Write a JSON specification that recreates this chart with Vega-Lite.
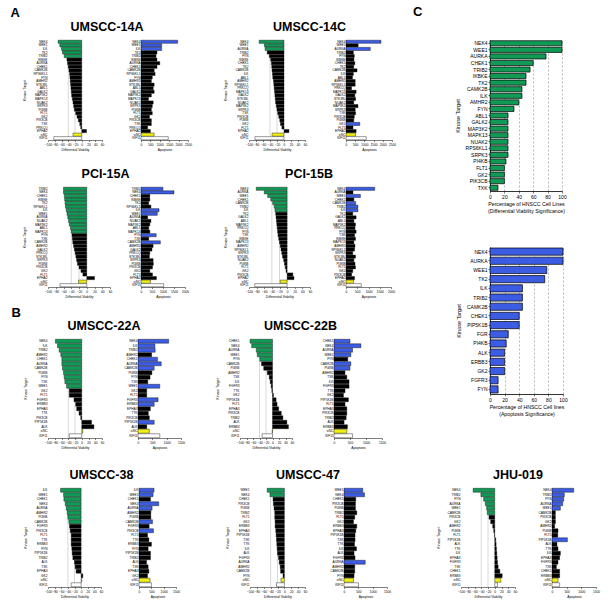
{
"$schema":"https://vega.github.io/schema/vega-lite/v6.json",
"background":"white",
"padding":{"left":10,"top":6,"right":2,"bottom":2},
"config":{
 "font":"Liberation Sans",
 "view":{"stroke":null},
 "axis":{"labelFont":"Liberation Sans","titleFont":"Liberation Sans","labelFontSize":3.2,"titleFontSize":3.3,"titleFontWeight":"normal","labelColor":"#000","titleColor":"#000","domainColor":"#000","tickColor":"#000","domainWidth":0.5,"tickWidth":0.5,"tickSize":1.5,"labelPadding":1,"titlePadding":2,"labelOverlap":false,"labelFlush":false,"grid":false},
 "axisY":{"ticks":false,"domain":false,"titleFontSize":3.5,"titlePadding":6.5},
 "title":{"font":"Liberation Sans","fontSize":12.5,"fontWeight":"bold","color":"#000","offset":6,"anchor":"middle"}
},
"datasets":{
 "thr":[{"t":-40},{"t":-20}],
 "u14a":[
  {"k":"NEK4","v":-70,"vc":"G","a":1950,"ac":"B"},{"k":"WEE1","v":-65,"vc":"G","a":1100,"ac":"B"},{"k":"ILK","v":-60,"vc":"G","a":1100,"ac":"B"},{"k":"TK2","v":-57,"vc":"G","a":850,"ac":"K"},{"k":"TRIB2","v":-52,"vc":"G","a":800,"ac":"K"},{"k":"IKBKE","v":-44,"vc":"K","a":850,"ac":"K"},{"k":"AURKA","v":-42,"vc":"K","a":1000,"ac":"K"},{"k":"CHEK1","v":-40,"vc":"K","a":850,"ac":"K"},{"k":"CAMK2B","v":-38,"vc":"K","a":700,"ac":"K"},{"k":"RPS6KL1","v":-36,"vc":"K","a":750,"ac":"K"},{"k":"FYN","v":-35,"vc":"K","a":600,"ac":"K"},{"k":"AMHR2","v":-34,"vc":"K","a":550,"ac":"K"},{"k":"STK38L","v":-33,"vc":"K","a":700,"ac":"K"},{"k":"ABL1","v":-32,"vc":"K","a":650,"ac":"K"},{"k":"GALK2","v":-31,"vc":"K","a":700,"ac":"K"},{"k":"MAP3K2","v":-30,"vc":"K","a":550,"ac":"K"},{"k":"MAPK13","v":-28,"vc":"K","a":400,"ac":"K"},{"k":"NUAK2","v":-26,"vc":"K","a":650,"ac":"K"},{"k":"SRPK3","v":-24,"vc":"K","a":600,"ac":"K"},{"k":"PI4KB","v":-22,"vc":"K","a":550,"ac":"K"},{"k":"FLT1","v":-18,"vc":"K","a":600,"ac":"K"},{"k":"GK2","v":-14,"vc":"K","a":450,"ac":"K"},{"k":"PIK3CB","v":-10,"vc":"K","a":550,"ac":"K"},{"k":"TXK","v":-6,"vc":"K","a":550,"ac":"K"},{"k":"PRKCQ","v":-3,"vc":"K","a":350,"ac":"K"},{"k":"EPHA2","v":14,"vc":"K","a":500,"ac":"K"},{"k":"siNC","v":-26,"vc":"Y","a":700,"ac":"Y"},{"k":"KIF11","v":-83,"vc":"W","a":1450,"ac":"W"}],
 "u14c":[
  {"k":"NEK4","v":-71,"vc":"G","a":1900,"ac":"B"},{"k":"WEE1","v":-56,"vc":"G","a":660,"ac":"K"},{"k":"AURKA","v":-54,"vc":"G","a":1320,"ac":"B"},{"k":"TRIB2","v":-48,"vc":"K","a":400,"ac":"K"},{"k":"FYN","v":-42,"vc":"K","a":450,"ac":"K"},{"k":"IKBKE","v":-38,"vc":"K","a":430,"ac":"K"},{"k":"CHEK1","v":-36,"vc":"K","a":480,"ac":"K"},{"k":"TK2","v":-35,"vc":"K","a":420,"ac":"K"},{"k":"CAMK2B","v":-34,"vc":"K","a":600,"ac":"K"},{"k":"ILK","v":-33,"vc":"K","a":400,"ac":"K"},{"k":"ABL1","v":-32,"vc":"K","a":350,"ac":"K"},{"k":"AMHR2","v":-30,"vc":"K","a":500,"ac":"K"},{"k":"RPS6KL1","v":-29,"vc":"K","a":500,"ac":"K"},{"k":"PRKCQ","v":-28,"vc":"K","a":300,"ac":"K"},{"k":"MAPK13","v":-27,"vc":"K","a":550,"ac":"K"},{"k":"GALK2","v":-26,"vc":"K","a":480,"ac":"K"},{"k":"STK38L","v":-25,"vc":"K","a":520,"ac":"K"},{"k":"NUAK2","v":-24,"vc":"K","a":420,"ac":"K"},{"k":"MAP3K2","v":-22,"vc":"K","a":650,"ac":"K"},{"k":"SRPK3","v":-20,"vc":"K","a":500,"ac":"K"},{"k":"TXK","v":-18,"vc":"K","a":520,"ac":"K"},{"k":"PIK3CB","v":-15,"vc":"K","a":450,"ac":"K"},{"k":"PI4KB","v":-12,"vc":"K","a":420,"ac":"K"},{"k":"GK2","v":-10,"vc":"K","a":750,"ac":"B"},{"k":"FLT1","v":-6,"vc":"K","a":380,"ac":"K"},{"k":"EPHA2","v":14,"vc":"K","a":550,"ac":"K"},{"k":"siNC","v":-34,"vc":"Y","a":520,"ac":"Y"},{"k":"KIF11","v":-83,"vc":"W","a":1100,"ac":"W"}],
 "p15a":[
  {"k":"TRIB2","v":-60,"vc":"G","a":1000,"ac":"B"},{"k":"NEK4","v":-60,"vc":"G","a":1500,"ac":"B"},{"k":"CHEK1","v":-58,"vc":"G","a":400,"ac":"K"},{"k":"IKBKE","v":-57,"vc":"G","a":400,"ac":"K"},{"k":"TK2","v":-56,"vc":"G","a":350,"ac":"K"},{"k":"RPS6KL1","v":-55,"vc":"G","a":450,"ac":"K"},{"k":"ILK","v":-53,"vc":"G","a":820,"ac":"B"},{"k":"WEE1","v":-51,"vc":"G","a":740,"ac":"B"},{"k":"AURKA","v":-49,"vc":"G","a":300,"ac":"K"},{"k":"NUAK2","v":-47,"vc":"G","a":450,"ac":"K"},{"k":"MAP3K2","v":-45,"vc":"G","a":400,"ac":"K"},{"k":"ABL1","v":-42,"vc":"G","a":350,"ac":"K"},{"k":"MAPK13","v":-40,"vc":"G","a":400,"ac":"K"},{"k":"FYN","v":-38,"vc":"K","a":690,"ac":"B"},{"k":"TXK","v":-37,"vc":"K","a":350,"ac":"K"},{"k":"CAMK2B","v":-36,"vc":"K","a":880,"ac":"B"},{"k":"AMHR2","v":-34,"vc":"K","a":550,"ac":"K"},{"k":"GALK2","v":-32,"vc":"K","a":500,"ac":"K"},{"k":"PRKCQ","v":-30,"vc":"K","a":400,"ac":"K"},{"k":"STK38L","v":-28,"vc":"K","a":380,"ac":"K"},{"k":"SRPK3","v":-26,"vc":"K","a":550,"ac":"K"},{"k":"PI4KB","v":-24,"vc":"K","a":560,"ac":"K"},{"k":"PIK3CB","v":-20,"vc":"K","a":520,"ac":"K"},{"k":"GK2","v":-15,"vc":"K","a":400,"ac":"K"},{"k":"FLT1","v":-10,"vc":"K","a":520,"ac":"K"},{"k":"EPHA2","v":20,"vc":"K","a":700,"ac":"K"},{"k":"siNC","v":-21,"vc":"Y","a":430,"ac":"Y"},{"k":"KIF11","v":-69,"vc":"W","a":1030,"ac":"W"}],
 "p15b":[
  {"k":"NEK4","v":-81,"vc":"G","a":1275,"ac":"B"},{"k":"AURKA","v":-60,"vc":"G","a":310,"ac":"K"},{"k":"WEE1","v":-51,"vc":"G","a":640,"ac":"B"},{"k":"CHEK1","v":-43,"vc":"G","a":350,"ac":"K"},{"k":"CAMK2B","v":-38,"vc":"G","a":430,"ac":"B"},{"k":"TRIB2","v":-34,"vc":"G","a":530,"ac":"B"},{"k":"ILK","v":-32,"vc":"G","a":530,"ac":"B"},{"k":"TK2","v":-30,"vc":"K","a":300,"ac":"K"},{"k":"GALK2","v":-29,"vc":"K","a":450,"ac":"K"},{"k":"ABL1","v":-28,"vc":"K","a":350,"ac":"K"},{"k":"MAP3K2","v":-27,"vc":"K","a":420,"ac":"K"},{"k":"PRKCQ","v":-26,"vc":"K","a":400,"ac":"K"},{"k":"FYN","v":-25,"vc":"K","a":450,"ac":"K"},{"k":"TXK","v":-24,"vc":"K","a":380,"ac":"K"},{"k":"IKBKE","v":-22,"vc":"K","a":420,"ac":"K"},{"k":"MAPK13","v":-20,"vc":"K","a":350,"ac":"K"},{"k":"AMHR2","v":-18,"vc":"K","a":400,"ac":"K"},{"k":"RPS6KL1","v":-16,"vc":"K","a":380,"ac":"K"},{"k":"SRPK3","v":-14,"vc":"K","a":300,"ac":"K"},{"k":"STK38L","v":-12,"vc":"K","a":420,"ac":"K"},{"k":"NUAK2","v":-9,"vc":"K","a":350,"ac":"K"},{"k":"PI4KB","v":-7,"vc":"K","a":400,"ac":"K"},{"k":"FLT1","v":-5,"vc":"K","a":420,"ac":"K"},{"k":"GK2","v":-3,"vc":"K","a":300,"ac":"K"},{"k":"PIK3CB","v":15,"vc":"K","a":250,"ac":"K"},{"k":"EPHA2","v":18,"vc":"K","a":380,"ac":"K"},{"k":"siNC","v":-18,"vc":"Y","a":340,"ac":"Y"},{"k":"KIF11","v":-85,"vc":"W","a":680,"ac":"W"}],
 "u22a":[
  {"k":"NEK4","v":-78,"vc":"G","a":1070,"ac":"B"},{"k":"ILK","v":-72,"vc":"G","a":590,"ac":"B"},{"k":"TRIB2","v":-67,"vc":"G","a":600,"ac":"B"},{"k":"AMHR2","v":-62,"vc":"G","a":475,"ac":"K"},{"k":"CHEK1","v":-59,"vc":"G","a":680,"ac":"B"},{"k":"AURKA","v":-59,"vc":"G","a":810,"ac":"B"},{"k":"CAMK2B","v":-57,"vc":"G","a":565,"ac":"B"},{"k":"PI4KB","v":-54,"vc":"G","a":485,"ac":"K"},{"k":"FYN","v":-52,"vc":"G","a":420,"ac":"K"},{"k":"TXK","v":-50,"vc":"G","a":340,"ac":"K"},{"k":"WEE1","v":-45,"vc":"G","a":760,"ac":"B"},{"k":"GK2","v":-37,"vc":"K","a":305,"ac":"K"},{"k":"FLT1","v":-37,"vc":"K","a":305,"ac":"K"},{"k":"FGFR3","v":-23,"vc":"K","a":700,"ac":"B"},{"k":"ERBB3","v":-18,"vc":"K","a":565,"ac":"B"},{"k":"EPHA3","v":-15,"vc":"K","a":430,"ac":"K"},{"k":"TTK","v":-8,"vc":"K","a":360,"ac":"K"},{"k":"PIK3CB","v":-3,"vc":"K","a":395,"ac":"K"},{"k":"PIP5K1B","v":29,"vc":"K","a":565,"ac":"B"},{"k":"ALK","v":36,"vc":"K","a":305,"ac":"K"},{"k":"siNC","v":3,"vc":"Y","a":395,"ac":"Y"},{"k":"KIF11","v":-37,"vc":"W","a":760,"ac":"W"}],
 "u22b":[
  {"k":"CHEK1","v":-69,"vc":"G","a":500,"ac":"B"},{"k":"NEK4","v":-64,"vc":"G","a":840,"ac":"B"},{"k":"AURKA","v":-50,"vc":"G","a":580,"ac":"B"},{"k":"WEE1","v":-47,"vc":"G","a":525,"ac":"B"},{"k":"FYN","v":-39,"vc":"G","a":430,"ac":"K"},{"k":"CAMK2B","v":-34,"vc":"K","a":525,"ac":"B"},{"k":"PI4KB","v":-27,"vc":"K","a":500,"ac":"B"},{"k":"AMHR2","v":-16,"vc":"K","a":345,"ac":"K"},{"k":"TXK","v":-10,"vc":"K","a":400,"ac":"K"},{"k":"ILK","v":-7,"vc":"K","a":470,"ac":"K"},{"k":"FGFR3","v":-4,"vc":"K","a":470,"ac":"K"},{"k":"TTK","v":-2,"vc":"K","a":345,"ac":"K"},{"k":"GK2","v":3,"vc":"K","a":295,"ac":"K"},{"k":"PIP5K1B","v":11,"vc":"K","a":450,"ac":"K"},{"k":"FLT1","v":14,"vc":"K","a":345,"ac":"K"},{"k":"EPHA3","v":19,"vc":"K","a":400,"ac":"K"},{"k":"PIK3CB","v":27,"vc":"K","a":400,"ac":"K"},{"k":"TRIB2","v":32,"vc":"K","a":380,"ac":"K"},{"k":"ALK","v":44,"vc":"K","a":315,"ac":"K"},{"k":"ERBB3","v":49,"vc":"K","a":420,"ac":"K"},{"k":"siNC","v":-1,"vc":"Y","a":400,"ac":"Y"},{"k":"KIF11","v":-32,"vc":"W","a":580,"ac":"W"}],
 "u38":[
  {"k":"ILK","v":-62,"vc":"G","a":610,"ac":"B"},{"k":"WEE1","v":-53,"vc":"G","a":570,"ac":"B"},{"k":"CHEK1","v":-52,"vc":"G","a":465,"ac":"K"},{"k":"NEK4","v":-48,"vc":"G","a":800,"ac":"B"},{"k":"AURKA","v":-45,"vc":"G","a":530,"ac":"B"},{"k":"AMHR2","v":-42,"vc":"G","a":480,"ac":"K"},{"k":"PI4KB","v":-40,"vc":"G","a":480,"ac":"K"},{"k":"CAMK2B","v":-37,"vc":"G","a":545,"ac":"B"},{"k":"FGFR3","v":-35,"vc":"K","a":410,"ac":"K"},{"k":"PIK3CB","v":-33,"vc":"K","a":585,"ac":"B"},{"k":"FLT1","v":-30,"vc":"K","a":345,"ac":"K"},{"k":"TTK","v":-30,"vc":"K","a":400,"ac":"K"},{"k":"ERBB3","v":-30,"vc":"K","a":505,"ac":"K"},{"k":"FYN","v":-28,"vc":"K","a":370,"ac":"K"},{"k":"PIP5K1B","v":-27,"vc":"K","a":465,"ac":"K"},{"k":"TRIB2","v":-25,"vc":"K","a":465,"ac":"K"},{"k":"ALK","v":-20,"vc":"K","a":305,"ac":"K"},{"k":"TXK","v":-18,"vc":"K","a":370,"ac":"K"},{"k":"EPHA3","v":-15,"vc":"K","a":400,"ac":"K"},{"k":"GK2","v":5,"vc":"K","a":345,"ac":"K"},{"k":"siNC","v":2,"vc":"Y","a":450,"ac":"Y"},{"k":"KIF11","v":-30,"vc":"W","a":505,"ac":"W"}],
 "u47":[
  {"k":"WEE1","v":-50,"vc":"G","a":655,"ac":"B"},{"k":"NEK4","v":-42,"vc":"G","a":715,"ac":"B"},{"k":"CHEK1","v":-33,"vc":"K","a":410,"ac":"K"},{"k":"PIK3CB","v":-32,"vc":"K","a":400,"ac":"K"},{"k":"PI4KB","v":-30,"vc":"K","a":400,"ac":"K"},{"k":"TRIB2","v":-28,"vc":"K","a":445,"ac":"K"},{"k":"FLT1","v":-28,"vc":"K","a":375,"ac":"K"},{"k":"GK2","v":-27,"vc":"K","a":330,"ac":"K"},{"k":"ERBB3","v":-27,"vc":"K","a":445,"ac":"K"},{"k":"EPHA3","v":-25,"vc":"K","a":410,"ac":"K"},{"k":"PIP5K1B","v":-24,"vc":"K","a":385,"ac":"K"},{"k":"TXK","v":-23,"vc":"K","a":385,"ac":"K"},{"k":"TTK","v":-22,"vc":"K","a":365,"ac":"K"},{"k":"ILK","v":-21,"vc":"K","a":435,"ac":"K"},{"k":"ALK","v":-20,"vc":"K","a":350,"ac":"K"},{"k":"FGFR3","v":-17,"vc":"K","a":385,"ac":"K"},{"k":"AURKA","v":-15,"vc":"K","a":740,"ac":"B"},{"k":"AMHR2","v":-12,"vc":"K","a":375,"ac":"K"},{"k":"CAMK2B","v":-11,"vc":"K","a":375,"ac":"K"},{"k":"FYN","v":-4,"vc":"K","a":350,"ac":"K"},{"k":"siNC","v":-10,"vc":"Y","a":330,"ac":"Y"},{"k":"KIF11","v":-23,"vc":"W","a":505,"ac":"W"}],
 "jhu":[
  {"k":"NEK4","v":-64,"vc":"G","a":740,"ac":"B"},{"k":"TRIB2","v":-41,"vc":"G","a":420,"ac":"B"},{"k":"FYN","v":-33,"vc":"G","a":400,"ac":"B"},{"k":"AURKA","v":-28,"vc":"G","a":365,"ac":"B"},{"k":"WEE1","v":-24,"vc":"G","a":285,"ac":"B"},{"k":"CAMK2B","v":-22,"vc":"G","a":115,"ac":"K"},{"k":"PIK3CB","v":-17,"vc":"K","a":115,"ac":"K"},{"k":"GK2","v":-12,"vc":"K","a":115,"ac":"K"},{"k":"AMHR2","v":-6,"vc":"K","a":90,"ac":"K"},{"k":"PI4KB","v":-3,"vc":"K","a":205,"ac":"K"},{"k":"FLT1","v":-1,"vc":"K","a":195,"ac":"K"},{"k":"PIP5K1B","v":3,"vc":"K","a":525,"ac":"B"},{"k":"ALK","v":4,"vc":"K","a":170,"ac":"K"},{"k":"TTK","v":5,"vc":"K","a":205,"ac":"K"},{"k":"ILK","v":6,"vc":"K","a":285,"ac":"K"},{"k":"EPHA3","v":7,"vc":"K","a":260,"ac":"K"},{"k":"FGFR3","v":8,"vc":"K","a":205,"ac":"K"},{"k":"TXK","v":10,"vc":"K","a":150,"ac":"K"},{"k":"CHEK1","v":15,"vc":"K","a":260,"ac":"K"},{"k":"ERBB3","v":22,"vc":"K","a":260,"ac":"K"},{"k":"siNC","v":18,"vc":"Y","a":205,"ac":"Y"},{"k":"KIF11","v":8,"vc":"W","a":260,"ac":"W"}],
 "ctop":[
  {"k":"NEK4","p":100},{"k":"WEE1","p":100},{"k":"AURKA","p":77.8},{"k":"CHEK1","p":60},{"k":"TRIB2","p":55.6},{"k":"IKBKE","p":50},{"k":"TK2","p":50},{"k":"CAMK2B","p":44.4},{"k":"ILK","p":44.4},{"k":"AMHR2","p":40},{"k":"FYN","p":33.3},{"k":"ABL1","p":25},{"k":"GALK2","p":25},{"k":"MAP3K2","p":25},{"k":"MAPK13","p":25},{"k":"NUAK2","p":25},{"k":"RPS6KL1","p":25},{"k":"SRPK3","p":25},{"k":"PI4KB","p":22.2},{"k":"FLT1","p":20},{"k":"GK2","p":20},{"k":"PIK3CB","p":20},{"k":"TXK","p":11.1}],
 "cbot":[
  {"k":"NEK4","p":100},{"k":"AURKA","p":100},{"k":"WEE1","p":77.8},{"k":"TK2","p":75},{"k":"ILK","p":44.4},{"k":"TRIB2","p":44.4},{"k":"CAMK2B","p":44.4},{"k":"CHEK1","p":40},{"k":"PIP5K1B","p":40},{"k":"FGR","p":25},{"k":"PI4KB","p":22.2},{"k":"ALK","p":20},{"k":"ERBB3","p":20},{"k":"GK2","p":20},{"k":"FGFR3","p":11.1},{"k":"FYN","p":11.1}]
},
"spacing":20,
"vconcat":[
 {"columns":2,"align":"none","spacing":17,
  "concat":[
   {"spacing":9,"vconcat":[
    {"title":{"text":"A","fontSize":13,"anchor":"start","frame":"bounds","dx":-12,"offset":1},
     "columns":2,"spacing":{"row":16,"column":31},
     "concat":[
      {"title":"UMSCC-14A","spacing":22,"hconcat":[
       {"width":54,"height":100,"layer":[
        {"data":{"name":"thr"},"mark":{"type":"rule","color":"#b0b0b0","strokeWidth":0.5},"encoding":{"x":{"field":"t","type":"quantitative","title":"Differential Viability","axis":{"values":[-100,-80,-60,-40,-20,0,20,40,60]}}}},
        {"data":{"name":"u14a"},"mark":{"type":"bar","stroke":"#000","strokeWidth":0.4},"encoding":{
         "y":{"field":"k","type":"nominal","sort":null,"title":"Kinase Target","scale":{"paddingInner":0.12}},
         "x":{"field":"v","type":"quantitative","title":"Differential Viability","scale":{"domain":[-100,60],"nice":false},"axis":{"values":[-100,-80,-60,-40,-20,0,20,40,60]}},
         "color":{"field":"vc","type":"nominal","scale":{"domain":["G","K","Y","W","B"],"range":["#119a55","#000000","#f2ef13","#ffffff","#3b5ce3"]},"legend":null}}}]},
       {"width":47,"height":100,"data":{"name":"u14a"},"mark":{"type":"bar","stroke":"#000","strokeWidth":0.4},"encoding":{
        "y":{"field":"k","type":"nominal","sort":null,"title":null,"scale":{"paddingInner":0.12},"axis":{"domain":true}},
        "x":{"field":"a","type":"quantitative","title":"Apoptosis","scale":{"domain":[0,2500],"nice":false},"axis":{"values":[0,500,1000,1500,2000,2500],"format":"d"}},
        "color":{"field":"ac","type":"nominal","scale":{"domain":["G","K","Y","W","B"],"range":["#119a55","#000000","#f2ef13","#ffffff","#3b5ce3"]},"legend":null}}}]},
      {"title":"UMSCC-14C","spacing":24,"hconcat":[
       {"width":56,"height":100,"layer":[
        {"data":{"name":"thr"},"mark":{"type":"rule","color":"#b0b0b0","strokeWidth":0.5},"encoding":{"x":{"field":"t","type":"quantitative","title":"Differential Viability","axis":{"values":[-100,-80,-60,-40,-20,0,20,40,60]}}}},
        {"data":{"name":"u14c"},"mark":{"type":"bar","stroke":"#000","strokeWidth":0.4},"encoding":{
         "y":{"field":"k","type":"nominal","sort":null,"title":"Kinase Target","scale":{"paddingInner":0.12}},
         "x":{"field":"v","type":"quantitative","title":"Differential Viability","scale":{"domain":[-100,60],"nice":false},"axis":{"values":[-100,-80,-60,-40,-20,0,20,40,60]}},
         "color":{"field":"vc","type":"nominal","scale":{"domain":["G","K","Y","W","B"],"range":["#119a55","#000000","#f2ef13","#ffffff","#3b5ce3"]},"legend":null}}}]},
       {"width":46,"height":100,"data":{"name":"u14c"},"mark":{"type":"bar","stroke":"#000","strokeWidth":0.4},"encoding":{
        "y":{"field":"k","type":"nominal","sort":null,"title":null,"scale":{"paddingInner":0.12},"axis":{"domain":true}},
        "x":{"field":"a","type":"quantitative","title":"Apoptosis","scale":{"domain":[0,2500],"nice":false},"axis":{"values":[0,500,1000,1500,2000,2500],"format":"d"}},
        "color":{"field":"ac","type":"nominal","scale":{"domain":["G","K","Y","W","B"],"range":["#119a55","#000000","#f2ef13","#ffffff","#3b5ce3"]},"legend":null}}}]},
      {"title":"PCI-15A","spacing":14,"hconcat":[
       {"width":62,"height":100,"layer":[
        {"data":{"name":"thr"},"mark":{"type":"rule","color":"#b0b0b0","strokeWidth":0.5},"encoding":{"x":{"field":"t","type":"quantitative","title":"Differential Viability","axis":{"values":[-100,-80,-60,-40,-20,0,20,40,60]}}}},
        {"data":{"name":"p15a"},"mark":{"type":"bar","stroke":"#000","strokeWidth":0.4},"encoding":{
         "y":{"field":"k","type":"nominal","sort":null,"title":"Kinase Target","scale":{"paddingInner":0.12}},
         "x":{"field":"v","type":"quantitative","title":"Differential Viability","scale":{"domain":[-100,60],"nice":false},"axis":{"values":[-100,-80,-60,-40,-20,0,20,40,60]}},
         "color":{"field":"vc","type":"nominal","scale":{"domain":["G","K","Y","W","B"],"range":["#119a55","#000000","#f2ef13","#ffffff","#3b5ce3"]},"legend":null}}}]},
       {"width":44,"height":100,"data":{"name":"p15a"},"mark":{"type":"bar","stroke":"#000","strokeWidth":0.4},"encoding":{
        "y":{"field":"k","type":"nominal","sort":null,"title":null,"scale":{"paddingInner":0.12},"axis":{"domain":true}},
        "x":{"field":"a","type":"quantitative","title":"Apoptosis","scale":{"domain":[0,2000],"nice":false},"axis":{"values":[0,500,1000,1500,2000],"format":"d"}},
        "color":{"field":"ac","type":"nominal","scale":{"domain":["G","K","Y","W","B"],"range":["#119a55","#000000","#f2ef13","#ffffff","#3b5ce3"]},"legend":null}}}]},
      {"title":"PCI-15B","spacing":19,"hconcat":[
       {"width":61,"height":100,"layer":[
        {"data":{"name":"thr"},"mark":{"type":"rule","color":"#b0b0b0","strokeWidth":0.5},"encoding":{"x":{"field":"t","type":"quantitative","title":"Differential Viability","axis":{"values":[-100,-80,-60,-40,-20,0,20,40,60]}}}},
        {"data":{"name":"p15b"},"mark":{"type":"bar","stroke":"#000","strokeWidth":0.4},"encoding":{
         "y":{"field":"k","type":"nominal","sort":null,"title":"Kinase Target","scale":{"paddingInner":0.12}},
         "x":{"field":"v","type":"quantitative","title":"Differential Viability","scale":{"domain":[-100,60],"nice":false},"axis":{"values":[-100,-80,-60,-40,-20,0,20,40,60]}},
         "color":{"field":"vc","type":"nominal","scale":{"domain":["G","K","Y","W","B"],"range":["#119a55","#000000","#f2ef13","#ffffff","#3b5ce3"]},"legend":null}}}]},
       {"width":45,"height":100,"data":{"name":"p15b"},"mark":{"type":"bar","stroke":"#000","strokeWidth":0.4},"encoding":{
        "y":{"field":"k","type":"nominal","sort":null,"title":null,"scale":{"paddingInner":0.12},"axis":{"domain":true}},
        "x":{"field":"a","type":"quantitative","title":"Apoptosis","scale":{"domain":[0,2000],"nice":false},"axis":{"values":[0,500,1000,1500,2000],"format":"d"}},
        "color":{"field":"ac","type":"nominal","scale":{"domain":["G","K","Y","W","B"],"range":["#119a55","#000000","#f2ef13","#ffffff","#3b5ce3"]},"legend":null}}}]}
     ]},
    {"title":{"text":"B","fontSize":13,"anchor":"start","frame":"bounds","dx":-12,"offset":0},
     "columns":2,"spacing":{"column":30},
     "concat":[
      {"title":"UMSCC-22A","spacing":19,"hconcat":[
       {"width":54,"height":99,"layer":[
        {"data":{"name":"thr"},"mark":{"type":"rule","color":"#b0b0b0","strokeWidth":0.5},"encoding":{"x":{"field":"t","type":"quantitative","title":"Differential Viability","axis":{"values":[-100,-80,-60,-40,-20,0,20,40,60]}}}},
        {"data":{"name":"u22a"},"mark":{"type":"bar","stroke":"#000","strokeWidth":0.4},"encoding":{
         "y":{"field":"k","type":"nominal","sort":null,"title":"Kinase Target","scale":{"paddingInner":0.12}},
         "x":{"field":"v","type":"quantitative","title":"Differential Viability","scale":{"domain":[-100,60],"nice":false},"axis":{"values":[-100,-80,-60,-40,-20,0,20,40,60]}},
         "color":{"field":"vc","type":"nominal","scale":{"domain":["G","K","Y","W","B"],"range":["#119a55","#000000","#f2ef13","#ffffff","#3b5ce3"]},"legend":null}}}]},
       {"width":43,"height":99,"data":{"name":"u22a"},"mark":{"type":"bar","stroke":"#000","strokeWidth":0.4},"encoding":{
        "y":{"field":"k","type":"nominal","sort":null,"title":null,"scale":{"paddingInner":0.12},"axis":{"domain":true}},
        "x":{"field":"a","type":"quantitative","title":"Apoptosis","scale":{"domain":[0,1500],"nice":false},"axis":{"values":[0,500,1000,1500],"format":"d"}},
        "color":{"field":"ac","type":"nominal","scale":{"domain":["G","K","Y","W","B"],"range":["#119a55","#000000","#f2ef13","#ffffff","#3b5ce3"]},"legend":null}}}]},
      {"title":"UMSCC-22B","spacing":25,"hconcat":[
       {"width":52,"height":99,"layer":[
        {"data":{"name":"thr"},"mark":{"type":"rule","color":"#b0b0b0","strokeWidth":0.5},"encoding":{"x":{"field":"t","type":"quantitative","title":"Differential Viability","axis":{"values":[-100,-80,-60,-40,-20,0,20,40,60]}}}},
        {"data":{"name":"u22b"},"mark":{"type":"bar","stroke":"#000","strokeWidth":0.4},"encoding":{
         "y":{"field":"k","type":"nominal","sort":null,"title":"Kinase Target","scale":{"paddingInner":0.12}},
         "x":{"field":"v","type":"quantitative","title":"Differential Viability","scale":{"domain":[-100,60],"nice":false},"axis":{"values":[-100,-80,-60,-40,-20,0,20,40,60]}},
         "color":{"field":"vc","type":"nominal","scale":{"domain":["G","K","Y","W","B"],"range":["#119a55","#000000","#f2ef13","#ffffff","#3b5ce3"]},"legend":null}}}]},
       {"width":48,"height":99,"data":{"name":"u22b"},"mark":{"type":"bar","stroke":"#000","strokeWidth":0.4},"encoding":{
        "y":{"field":"k","type":"nominal","sort":null,"title":null,"scale":{"paddingInner":0.12},"axis":{"domain":true}},
        "x":{"field":"a","type":"quantitative","title":"Apoptosis","scale":{"domain":[0,1500],"nice":false},"axis":{"values":[0,500,1000,1500],"format":"d"}},
        "color":{"field":"ac","type":"nominal","scale":{"domain":["G","K","Y","W","B"],"range":["#119a55","#000000","#f2ef13","#ffffff","#3b5ce3"]},"legend":null}}}]}
     ]}
   ]},
   {"title":{"text":"C","fontSize":13,"anchor":"start","frame":"bounds","dx":-42,"offset":21},
    "spacing":33,"vconcat":[
     {"width":72,"height":151,"data":{"name":"ctop"},"mark":{"type":"bar","color":"#119a55","stroke":"#000","strokeWidth":0.7},"encoding":{
      "y":{"field":"k","type":"nominal","sort":null,"title":"Kinase Target","scale":{"paddingInner":0.22},"axis":{"labelFontSize":5,"titleFontSize":5.5,"ticks":true,"tickSize":2,"domain":true,"domainWidth":0.8,"titlePadding":5}},
      "x":{"field":"p","type":"quantitative","title":["Percentage of HNSCC Cell Lines","(Differential Viability Significance)"],"scale":{"domain":[0,100],"nice":false},"axis":{"values":[0,20,40,60,80,100],"labelFontSize":5,"titleFontSize":5.2,"tickSize":2,"domainWidth":0.8,"grid":true,"gridDash":[2,2],"gridColor":"#888","gridWidth":0.6,"titlePadding":2}}}},
     {"width":73,"height":147,"data":{"name":"cbot"},"mark":{"type":"bar","color":"#3b5ce3","stroke":"#000","strokeWidth":0.7},"encoding":{
      "y":{"field":"k","type":"nominal","sort":null,"title":"Kinase Target","scale":{"paddingInner":0.22},"axis":{"labelFontSize":5,"titleFontSize":5.5,"ticks":true,"tickSize":2,"domain":true,"domainWidth":0.8,"titlePadding":5}},
      "x":{"field":"p","type":"quantitative","title":["Percentage of HNSCC Cell lines","(Apoptosis Significance)"],"scale":{"domain":[0,100],"nice":false},"axis":{"values":[0,20,40,60,80,100],"labelFontSize":5,"titleFontSize":5.2,"tickSize":2,"domainWidth":0.8,"grid":true,"gridDash":[2,2],"gridColor":"#888","gridWidth":0.6,"titlePadding":2}}}}
   ]}
 ]},
 {"columns":3,"align":"each","spacing":45,
  "concat":[
   {"title":"UMSCC-38","spacing":21,"hconcat":[
    {"width":53,"height":99,"layer":[
     {"data":{"name":"thr"},"mark":{"type":"rule","color":"#b0b0b0","strokeWidth":0.5},"encoding":{"x":{"field":"t","type":"quantitative","title":"Differential Viability","axis":{"values":[-100,-80,-60,-40,-20,0,20,40,60]}}}},
     {"data":{"name":"u38"},"mark":{"type":"bar","stroke":"#000","strokeWidth":0.4},"encoding":{
      "y":{"field":"k","type":"nominal","sort":null,"title":"Kinase Target","scale":{"paddingInner":0.12}},
      "x":{"field":"v","type":"quantitative","title":"Differential Viability","scale":{"domain":[-100,60],"nice":false},"axis":{"values":[-100,-80,-60,-40,-20,0,20,40,60]}},
      "color":{"field":"vc","type":"nominal","scale":{"domain":["G","K","Y","W","B"],"range":["#119a55","#000000","#f2ef13","#ffffff","#3b5ce3"]},"legend":null}}}]},
    {"width":37,"height":99,"data":{"name":"u38"},"mark":{"type":"bar","stroke":"#000","strokeWidth":0.4},"encoding":{
     "y":{"field":"k","type":"nominal","sort":null,"title":null,"scale":{"paddingInner":0.12},"axis":{"domain":true}},
     "x":{"field":"a","type":"quantitative","title":"Apoptosis","scale":{"domain":[0,1500],"nice":false},"axis":{"values":[0,500,1000,1500],"format":"d"}},
     "color":{"field":"ac","type":"nominal","scale":{"domain":["G","K","Y","W","B"],"range":["#119a55","#000000","#f2ef13","#ffffff","#3b5ce3"]},"legend":null}}}]},
   {"title":"UMSCC-47","spacing":22,"hconcat":[
    {"width":55,"height":99,"layer":[
     {"data":{"name":"thr"},"mark":{"type":"rule","color":"#b0b0b0","strokeWidth":0.5},"encoding":{"x":{"field":"t","type":"quantitative","title":"Differential Viability","axis":{"values":[-100,-80,-60,-40,-20,0,20,40,60]}}}},
     {"data":{"name":"u47"},"mark":{"type":"bar","stroke":"#000","strokeWidth":0.4},"encoding":{
      "y":{"field":"k","type":"nominal","sort":null,"title":"Kinase Target","scale":{"paddingInner":0.12}},
      "x":{"field":"v","type":"quantitative","title":"Differential Viability","scale":{"domain":[-100,60],"nice":false},"axis":{"values":[-100,-80,-60,-40,-20,0,20,40,60]}},
      "color":{"field":"vc","type":"nominal","scale":{"domain":["G","K","Y","W","B"],"range":["#119a55","#000000","#f2ef13","#ffffff","#3b5ce3"]},"legend":null}}}]},
    {"width":43,"height":99,"data":{"name":"u47"},"mark":{"type":"bar","stroke":"#000","strokeWidth":0.4},"encoding":{
     "y":{"field":"k","type":"nominal","sort":null,"title":null,"scale":{"paddingInner":0.12},"axis":{"domain":true}},
     "x":{"field":"a","type":"quantitative","title":"Apoptosis","scale":{"domain":[0,1500],"nice":false},"axis":{"values":[0,500,1000,1500],"format":"d"}},
     "color":{"field":"ac","type":"nominal","scale":{"domain":["G","K","Y","W","B"],"range":["#119a55","#000000","#f2ef13","#ffffff","#3b5ce3"]},"legend":null}}}]},
   {"title":"JHU-019","spacing":20,"hconcat":[
    {"width":54,"height":99,"layer":[
     {"data":{"name":"thr"},"mark":{"type":"rule","color":"#b0b0b0","strokeWidth":0.5},"encoding":{"x":{"field":"t","type":"quantitative","title":"Differential Viability","axis":{"values":[-100,-80,-60,-40,-20,0,20,40,60]}}}},
     {"data":{"name":"jhu"},"mark":{"type":"bar","stroke":"#000","strokeWidth":0.4},"encoding":{
      "y":{"field":"k","type":"nominal","sort":null,"title":"Kinase Target","scale":{"paddingInner":0.12}},
      "x":{"field":"v","type":"quantitative","title":"Differential Viability","scale":{"domain":[-100,60],"nice":false},"axis":{"values":[-100,-80,-60,-40,-20,0,20,40,60]}},
      "color":{"field":"vc","type":"nominal","scale":{"domain":["G","K","Y","W","B"],"range":["#119a55","#000000","#f2ef13","#ffffff","#3b5ce3"]},"legend":null}}}]},
    {"width":44,"height":99,"data":{"name":"jhu"},"mark":{"type":"bar","stroke":"#000","strokeWidth":0.4},"encoding":{
     "y":{"field":"k","type":"nominal","sort":null,"title":null,"scale":{"paddingInner":0.12},"axis":{"domain":true}},
     "x":{"field":"a","type":"quantitative","title":"Apoptosis","scale":{"domain":[0,1500],"nice":false},"axis":{"values":[0,500,1000,1500],"format":"d"}},
     "color":{"field":"ac","type":"nominal","scale":{"domain":["G","K","Y","W","B"],"range":["#119a55","#000000","#f2ef13","#ffffff","#3b5ce3"]},"legend":null}}}]}
  ]}
]
}
